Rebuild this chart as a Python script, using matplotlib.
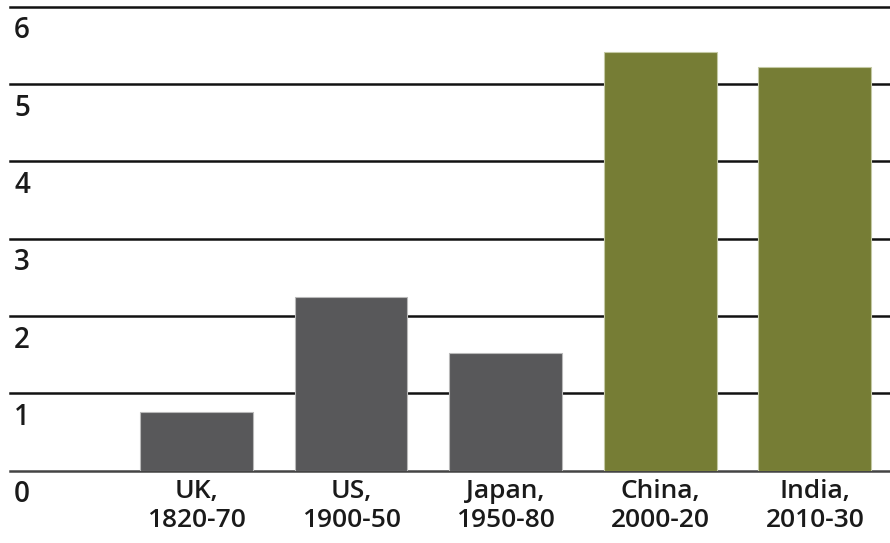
import matplotlib.pyplot as plt
from matplotlib.transforms import blended_transform_factory

# categories and values
labels = ["UK,\n1820-70", "US,\n1900-50", "Japan,\n1950-80", "China,\n2000-20", "India,\n2010-30"]
values = [0.76, 2.24, 1.52, 5.41, 5.22]
colors = ["#58585a", "#58585a", "#58585a", "#767d35", "#767d35"]
edges = ["#b9b9b9", "#b9b9b9", "#b9b9b9", "#c4c9a4", "#c4c9a4"]
yticks = [0, 1, 2, 3, 4, 5, 6]

plt.rcParams['font.family'] = ['Open Sans', 'DejaVu Sans']

fig = plt.figure(figsize=(8.9, 5.43), dpi=100)
ax = fig.add_axes([10 / 890, 72.5 / 543, 880 / 890, 464 / 543])

x = list(range(len(values)))
ax.bar(x, values, width=0.73, color=colors, edgecolor=edges, linewidth=0.8, zorder=3)

ax.set_xlim(-1.206, 4.486)
ax.set_ylim(0, 6)

# horizontal rules
for v in yticks:
    ax.axhline(v, color="#111111" if v > 0 else "#444444", linewidth=1.8, zorder=2, clip_on=False)

# y labels sit just under each rule
trans = blended_transform_factory(ax.transAxes, ax.transData)
for v in yticks:
    ax.annotate(str(v), xy=(0, v), xycoords=trans, xytext=(3, -23),
                textcoords="offset points", ha="left", va="baseline",
                fontsize=20, fontweight="semibold", color="#1a1a1a")

ax.set_xticks(x)
ax.set_xticklabels(labels, fontsize=19, fontweight="semibold", color="#1a1a1a", linespacing=1.2)
ax.tick_params(axis="x", length=0, pad=6)
ax.set_yticks([])

for s in ax.spines.values():
    s.set_visible(False)

fig.savefig("out.png", dpi=100)
